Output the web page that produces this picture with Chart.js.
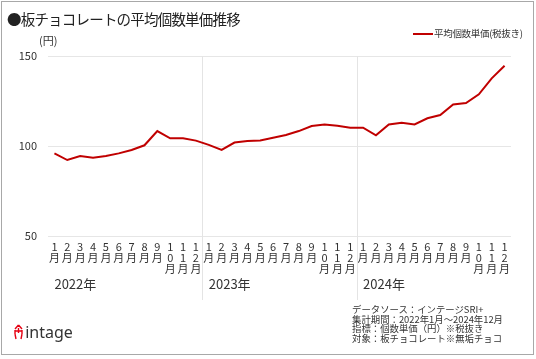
<!DOCTYPE html>
<html>
<head>
<meta charset="utf-8">
<script src="https://cdn.jsdelivr.net/npm/chart.js@4/dist/chart.umd.min.js"></script>
<style>
  body { margin: 0; background: #fff; font-family: "Noto Sans CJK JP", sans-serif; color: #333; }
  #wrap { position: relative; width: 536px; height: 359px; overflow: hidden; }
  #frame { position: absolute; left: 1px; top: 1px; width: 531px; height: 352px; border: 1px solid #a8a8a8; }
  canvas { position: absolute; left: 0; top: 0; }
  .t { position: absolute; white-space: nowrap; }
  #title { left: 7px; top: 9px; font-size: 14.5px; line-height: 20px; letter-spacing: -0.8px; color: #222; }
  #unit { left: 39px; top: 33px; font-size: 11px; line-height: 14px; }
  #legend { left: 413px; top: 26px; font-size: 9.5px; line-height: 14px; letter-spacing: -0.3px; }
  #legend i { display: inline-block; width: 20px; height: 2px; background: #c00000; vertical-align: middle; margin-right: 1px; }
  #src { left: 352px; top: 305px; font-size: 9.4px; line-height: 9.6px; }
  #logo { left: 14px; top: 322px; font-family: "Noto Sans", sans-serif; font-size: 16px; line-height: 20px; color: #333; }
  #logo svg { vertical-align: -2px; margin-right: -2px; }
</style>
</head>
<body>
<div id="wrap">
  <div id="frame"></div>
  <canvas id="c" width="536" height="359"></canvas>
  <div class="t" id="title">●板チョコレートの平均個数単価推移</div>
  <div class="t" id="unit">(円)</div>
  <div class="t" id="legend"><i></i>平均個数単価(税抜き)</div>
  <div class="t" id="src">データソース：インテージSRI+<br>集計期間：2022年1月～2024年12月<br>指標：個数単価（円）※税抜き<br>対象：板チョコレート※無垢チョコ</div>
  <div class="t" id="logo"><svg width="9" height="16" viewBox="0 0 9 16"><g stroke="#e60012" stroke-width="1.4" fill="none"><path d="M4.5 1 L1 5 M4.5 1 L8 5 M1 6 V10 M8 6 V10 M4.5 4 V9 M1 10 L2 15 M8 10 L7 15 M1 7 H8"/></g></svg> intage</div>
</div>
<script>
const years = ['2022年', '2023年', '2024年'];
const months = ['1月', '2月', '3月', '4月', '5月', '6月', '7月', '8月', '9月', '10月', '11月', '12月'];
const labels = [].concat(months, months, months);
const price = [
  95.9, 92.2, 94.4, 93.5, 94.4, 95.9, 97.8, 100.4, 108.3, 104.3, 104.3, 103.0,
  100.6, 97.8, 101.9, 102.8, 103.1, 104.6, 106.1, 108.3, 111.1, 112.0, 111.3, 110.2,
  110.2, 105.9, 112.0, 112.9, 112.0, 115.4, 117.2, 123.1, 123.9, 128.7, 137.6, 144.6
];
const yTicks = [50, 100, 150];

// 年の区切り線と年ラベル
const yearMarks = {
  id: 'yearMarks',
  beforeDatasetsDraw(chart) {
    const ctx = chart.ctx, x = chart.scales.x;
    ctx.save();
    ctx.strokeStyle = '#e4e4e4';
    ctx.lineWidth = 1;
    for (let i = 1; i < years.length; i++) {
      const px = Math.round((x.getPixelForValue(i * 12 - 1) + x.getPixelForValue(i * 12)) / 2) + 0.5;
      ctx.beginPath();
      ctx.moveTo(px, chart.chartArea.top);
      ctx.lineTo(px, 300);
      ctx.stroke();
    }
    ctx.restore();
  },
  afterDraw(chart) {
    const ctx = chart.ctx, x = chart.scales.x;
    ctx.save();
    ctx.fillStyle = '#333';
    ctx.font = '13px "Noto Sans CJK JP"';
    ctx.textAlign = 'left';
    ctx.textBaseline = 'middle';
    years.forEach((y, i) => ctx.fillText(y, x.getPixelForValue(i * 12), 284));
    ctx.restore();
  }
};

new Chart(document.getElementById('c'), {
  type: 'line',
  data: {
    labels: labels,
    datasets: [{
      label: '平均個数単価(税抜き)',
      data: price,
      borderColor: '#c00000',
      borderWidth: 2,
      pointRadius: 0,
      tension: 0
    }]
  },
  options: {
    responsive: false,
    animation: false,
    layout: { padding: { left: 8, top: 56, right: 25, bottom: 83 } },
    plugins: { legend: { display: false }, tooltip: { enabled: false } },
    scales: {
      x: {
        offset: true,
        grid: { display: false, drawTicks: false },
        border: { display: false },
        afterFit: s => { s.height = 40; },
        ticks: {
          autoSkip: false, maxRotation: 0, minRotation: 0, padding: 5,
          color: '#333', font: { family: 'Noto Sans CJK JP', size: 11, lineHeight: 1 },
          callback: (v, i) => labels[i].split('')
        }
      },
      y: {
        min: 50, max: 150,
        afterFit: s => { s.width = 40; },
        afterBuildTicks: s => { s.ticks = yTicks.map(v => ({ value: v })); },
        grid: { color: '#e6e6e6', drawTicks: false },
        border: { display: false },
        ticks: { padding: 11, color: '#333', font: { family: 'Noto Sans CJK JP', size: 11 } }
      }
    }
  },
  plugins: [yearMarks]
});
</script>
</body>
</html>
